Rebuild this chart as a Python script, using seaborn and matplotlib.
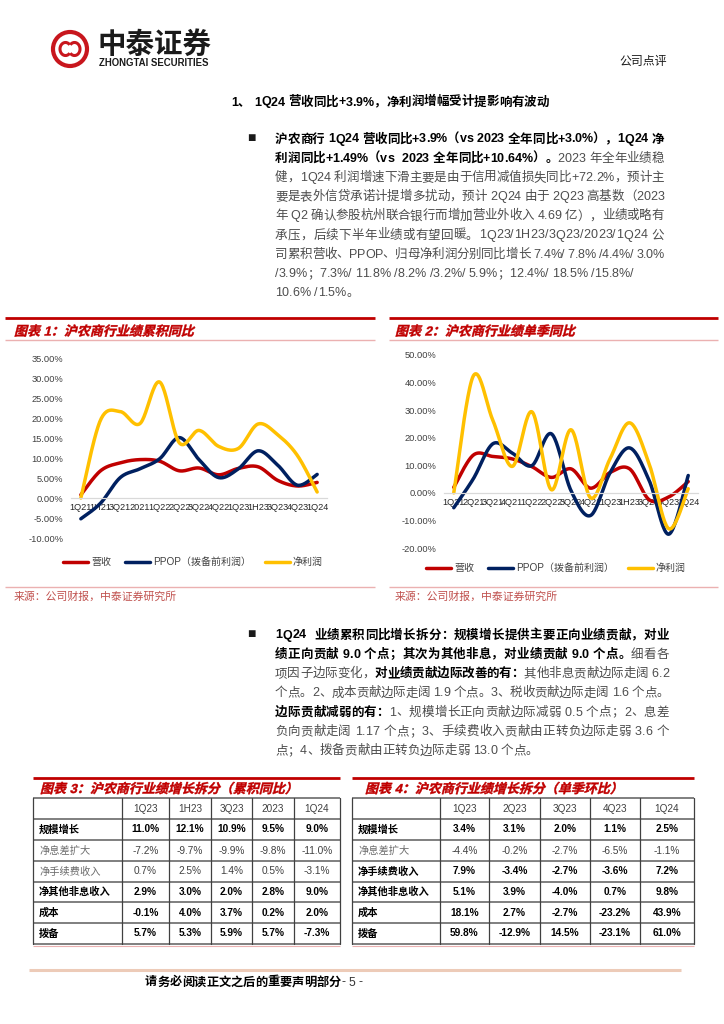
import numpy as np
import pandas as pd
import matplotlib
matplotlib.use("Agg")
import matplotlib.pyplot as plt
import seaborn as sns
from matplotlib.font_manager import FontProperties
from matplotlib.patches import Circle, PathPatch, Arc
from matplotlib.textpath import TextPath
from matplotlib.transforms import Affine2D
from matplotlib.ticker import FuncFormatter

# ------------------------------------------------------------
# Data
# ------------------------------------------------------------
series_names = ["营收", "PPOP（拨备前利润）", "净利润"]
series_colors = ["#C00000", "#002060", "#FFC000"]

cum_labels = ["1Q21", "1H21", "3Q21", "2021", "1Q22", "2Q22", "3Q22", "4Q22",
              "1Q23", "1H23", "3Q23", "4Q23", "1Q24"]
cum_rev = [0.8, 6.8, 8.8, 9.6, 9.2, 6.8, 7.5, 5.8, 7.4, 7.8, 4.4, 3.0, 3.9]
cum_ppop = [-5.2, -1.3, 5.1, 7.3, 9.8, 15.1, 9.6, 5.1, 7.3, 11.8, 8.2, 3.2, 5.9]
cum_np = [0.0, 19.5, 21.6, 18.6, 29.0, 13.8, 16.9, 12.9, 12.4, 18.5, 15.8, 10.6, 1.5]

q_labels = ["1Q21", "2Q21", "3Q21", "4Q21", "1Q22", "2Q22", "3Q22", "4Q22",
            "1Q23", "1H23", "3Q23", "4Q23", "1Q24"]
q_rev = [2.0, 13.7, 13.2, 12.3, 9.5, 5.6, 8.7, 1.7, 7.4, 8.7, -2.5, -1.5, 4.1]
q_ppop = [-5.4, 5.1, 17.8, 14.4, 9.9, 21.4, 0.8, -8.2, 7.3, 16.3, 4.5, -15.0, 6.3]
q_np = [0.0, 42.4, 26.3, 9.6, 29.4, 1.1, 22.9, -1.8, 12.4, 25.4, 10.5, -13.0, 1.5]

row_labels = ["规模增长", "净息差扩大", "净手续费收入", "净其他非息收入", "成本", "拨备"]

t3_header = ["1Q23", "1H23", "3Q23", "2023", "1Q24"]
t3_values = [
    [11.0, 12.1, 10.9, 9.5, 9.0],
    [-7.2, -9.7, -9.9, -9.8, -11.0],
    [0.7, 2.5, 1.4, 0.5, -3.1],
    [2.9, 3.0, 2.0, 2.8, 9.0],
    [-0.1, 4.0, 3.7, 0.2, 2.0],
    [5.7, 5.3, 5.9, 5.7, -7.3],
]
t3_bold = [True, False, False, True, True, True]

t4_header = ["1Q23", "2Q23", "3Q23", "4Q23", "1Q24"]
t4_values = [
    [3.4, 3.1, 2.0, 1.1, 2.5],
    [-4.4, -0.2, -2.7, -6.5, -1.1],
    [7.9, -3.4, -2.7, -3.6, 7.2],
    [5.1, 3.9, -4.0, 0.7, 9.8],
    [18.1, 2.7, -2.7, -23.2, 43.9],
    [59.8, -12.9, 14.5, -23.1, 61.0],
]
t4_bold = [True, False, True, True, True, True]

para1 = [
    [("沪农商行 1Q24 营收同比+3.9%（vs 2023 全年同比+3.0%），1Q24 净", "b")],
    [("利润同比+1.49%（vs  2023 全年同比+10.64%）。", "b"), ("2023 年全年业绩稳", "r")],
    [("健，1Q24 利润增速下滑主要是由于信用减值损失同比+72.2%，预计主", "r")],
    [("要是表外信贷承诺计提增多扰动，预计 2Q24 由于 2Q23 高基数（2023", "r")],
    [("年 Q2 确认参股杭州联合银行而增加营业外收入 4.69 亿），业绩或略有", "r")],
    [("承压，后续下半年业绩或有望回暖。1Q23/1H23/3Q23/2023/1Q24 公", "r")],
    [("司累积营收、PPOP、归母净利润分别同比增长 7.4%/ 7.8% /4.4%/ 3.0%", "r")],
    [("/3.9%；7.3%/ 11.8% /8.2% /3.2%/ 5.9%；12.4%/ 18.5% /15.8%/", "r")],
    [("10.6% /1.5%。", "r")],
]
para2 = [
    [("1Q24  业绩累积同比增长拆分：规模增长提供主要正向业绩贡献，对业", "b")],
    [("绩正向贡献 9.0 个点；其次为其他非息，对业绩贡献 9.0 个点。", "b"), ("细看各", "r")],
    [("项因子边际变化，", "r"), ("对业绩贡献边际改善的有：", "b"), ("其他非息贡献边际走阔 6.2", "r")],
    [("个点。2、成本贡献边际走阔 1.9 个点。3、税收贡献边际走阔 1.6 个点。", "r")],
    [("边际贡献减弱的有：", "b"), ("1、规模增长正向贡献边际减弱 0.5 个点；2、息差", "r")],
    [("负向贡献走阔 1.17 个点；3、手续费收入贡献由正转负边际走弱 3.6 个", "r")],
    [("点；4、拨备贡献由正转负边际走弱 13.0 个点。", "r")],
]

# ------------------------------------------------------------
# Page setup
# ------------------------------------------------------------
sns.set_theme(style="white")
FAMILY = ["Liberation Sans", "Noto Sans CJK SC", "DejaVu Sans"]
plt.rcParams["font.family"] = FAMILY
plt.rcParams["axes.unicode_minus"] = False

W, H = 724, 1024
fig = plt.figure(figsize=(W / 100, H / 100), dpi=100)
fig.patch.set_facecolor("white")
page = fig.add_axes([0, 0, 1, 1])
page.set_xlim(0, W)
page.set_ylim(H, 0)
page.set_autoscale_on(False)
page.axis("off")
renderer = fig.canvas.get_renderer()

RED = "#C00000"
PINK = "#EBB1B1"


def fp(size, bold=False):
    return FontProperties(family=FAMILY, weight="bold" if bold else "normal", size=size)


_adv = {}


def advance(ch, size, bold):
    key = (ch, size, bold)
    if key not in _adv:
        p = fp(size, bold)
        w1 = renderer.get_text_width_height_descent("a" + ch + "a", p, ismath=False)[0]
        w0 = renderer.get_text_width_height_descent("aa", p, ismath=False)[0]
        _adv[key] = w1 - w0
    return _adv[key]


def text_line(x, y, runs, size=9.0, right=None, colors=("#000000", "#4d4d4d")):
    items = []
    for txt, st in runs:
        b = st == "b"
        for ch in txt:
            items.append((ch, b, advance(ch, size, b)))
    total = sum(it[2] for it in items)
    gap = 0.0
    if right is not None and len(items) > 1:
        gap = (right - x - total) / (len(items) - 1)
    cx = x
    for ch, b, w in items:
        if ch != " ":
            page.text(cx, y, ch, fontproperties=fp(size, b),
                      color=colors[0] if b else colors[1], ha="left", va="baseline")
        cx += w + gap


def italic_title(x, y_base, s, size=13.0, color=RED):
    tp = TextPath((0, 0), s, size=size, prop=FontProperties(family=FAMILY, weight="bold"))
    tr = Affine2D().skew_deg(14, 0).scale(1, -1).translate(x, y_base) + page.transData
    page.add_patch(PathPatch(tp, transform=tr, fc=color, ec=color, lw=0.3))


def hline(x0, x1, y, color, lw):
    page.plot([x0, x1], [y, y], color=color, lw=lw, solid_capstyle="butt")


# ------------------------------------------------------------
# Header
# ------------------------------------------------------------
page.add_patch(Circle((70, 49), 17, fill=False, ec="#C8161D", lw=3.0))
page.add_patch(Arc((65.5, 49), 11, 13, theta1=45, theta2=315, ec="#C8161D", lw=2.2))
page.add_patch(Arc((74.5, 49), 11, 13, theta1=225, theta2=135, ec="#C8161D", lw=2.2))
page.text(97, 45, "中泰证券", fontproperties=fp(20.5, True), color="#1a1a1a",
          ha="left", va="center")
page.text(99, 63, "ZHONGTAI SECURITIES", fontproperties=fp(6.9, True), color="#1a1a1a",
          ha="left", va="center")
page.text(619, 62, "公司点评", fontproperties=fp(8.6), color="#1a1a1a",
          ha="left", va="center")

text_line(231, 105.5, [("1、 1Q24 营收同比+3.9%，净利润增幅受计提影响有波动", "b")])

# ------------------------------------------------------------
# Paragraphs
# ------------------------------------------------------------
page.text(247, 138, "■", fontproperties=fp(10), color="#1a1a1a", ha="left", va="center")
for i, runs in enumerate(para1):
    text_line(275, 138 + 19.2 * i + 4.5, runs, right=664 if i < 7 else None)

page.text(247, 634, "■", fontproperties=fp(10), color="#1a1a1a", ha="left", va="center")
for i, runs in enumerate(para2):
    text_line(275, 634 + 19.3 * i + 4.5, runs, right=669 if i < 6 else None)

# ------------------------------------------------------------
# Charts
# ------------------------------------------------------------


def smooth(vals, n=24):
    pts = np.column_stack([np.arange(len(vals)), vals]).astype(float)
    P = np.vstack([pts[0], pts, pts[-1]])
    out = []
    for i in range(1, len(P) - 2):
        p0, p1, p2, p3 = P[i - 1], P[i], P[i + 1], P[i + 2]
        c1 = p1 + (p2 - p0) / 6
        c2 = p2 - (p3 - p1) / 6
        t = np.linspace(0, 1, n, endpoint=(i == len(P) - 3))[:, None]
        out.append((1 - t) ** 3 * p1 + 3 * (1 - t) ** 2 * t * c1
                   + 3 * (1 - t) * t ** 2 * c2 + t ** 3 * p2)
    return np.vstack(out)


def draw_chart(box, labels, series, ylim, yticks, legend_xy):
    l, t, r, b = box
    ax = fig.add_axes([l / W, 1 - b / H, (r - l) / W, (b - t) / H])
    frames = []
    for name, vals in zip(series_names, series):
        sm = smooth(vals)
        frames.append(pd.DataFrame({"x": sm[:, 0], "y": sm[:, 1], "series": name}))
    df = pd.concat(frames, ignore_index=True)
    sns.lineplot(data=df, x="x", y="y", hue="series", hue_order=series_names,
                 palette=series_colors, sort=False, estimator=None,
                 linewidth=2.5, ax=ax)
    ax.set_xlim(-0.5, len(labels) - 0.5)
    ax.set_ylim(*ylim)
    ax.set_yticks(yticks)
    ax.yaxis.set_major_formatter(FuncFormatter(lambda v, _: f"{v:.2f}%"))
    ax.set_xticks(range(len(labels)))
    ax.set_xticklabels(labels)
    ax.set_xlabel("")
    ax.set_ylabel("")
    for s in ["top", "right", "left"]:
        ax.spines[s].set_visible(False)
    ax.spines["bottom"].set_position(("data", 0))
    ax.spines["bottom"].set_color("#d9d9d9")
    ax.spines["bottom"].set_linewidth(0.9)
    ax.tick_params(axis="both", length=0)
    ax.tick_params(axis="y", labelsize=6.7, labelcolor="#404040", pad=5.5)
    ax.tick_params(axis="x", labelsize=6.6, labelcolor="#262626", pad=3.5)
    ax.set_facecolor("none")
    handles, labs = ax.get_legend_handles_labels()
    ax.legend(handles, labs, ncol=3, loc="center", bbox_to_anchor=legend_xy,
              bbox_transform=fig.transFigure, frameon=False, fontsize=7.2,
              handlelength=2.5, handletextpad=0.3, columnspacing=1.4,
              labelcolor="#404040")
    return ax


# chart 1 frame
hline(5, 375, 318, RED, 2.0)
hline(5, 375, 340, PINK, 1.0)
hline(5, 375, 587, PINK, 1.0)
italic_title(14, 335.5, "图表 1：沪农商行业绩累积同比")
page.text(14, 597, "来源：公司财报，中泰证券研究所", fontproperties=fp(7.8),
          color="#C0504D", ha="left", va="center")

# chart 2 frame
hline(389, 718, 318, RED, 2.0)
hline(389, 718, 340, PINK, 1.0)
hline(389, 718, 587, PINK, 1.0)
italic_title(395, 335.5, "图表 2：沪农商行业绩单季同比")
page.text(395, 597, "来源：公司财报，中泰证券研究所", fontproperties=fp(7.8),
          color="#C0504D", ha="left", va="center")

draw_chart((71, 358, 327, 538), cum_labels, [cum_rev, cum_ppop, cum_np],
           (-10, 35), np.arange(-10, 36, 5), (193 / W, 1 - 562 / H))
draw_chart((444, 355, 698, 548), q_labels, [q_rev, q_ppop, q_np],
           (-20, 50), np.arange(-20, 51, 10), (556 / W, 1 - 568 / H))

# ------------------------------------------------------------
# Tables
# ------------------------------------------------------------
ROWS_Y = [798, 819, 840, 861, 882, 902, 923, 944]


def draw_table(x_cols, title_x, title, header, values, bold_rows):
    hline(x_cols[0], x_cols[-1], 778, RED, 2.0)
    italic_title(title_x, 793, title)
    for j, h in enumerate(header):
        cx = (x_cols[j + 1] + x_cols[j + 2]) / 2
        page.text(cx, (ROWS_Y[0] + ROWS_Y[1]) / 2, h, fontproperties=fp(7.2),
                  color="#404040", ha="center", va="center")
    for i, lab in enumerate(row_labels):
        cy = (ROWS_Y[i + 1] + ROWS_Y[i + 2]) / 2
        b = bold_rows[i]
        page.text(x_cols[0] + 6, cy, lab, fontproperties=fp(7.4, b),
                  color="#000000" if b else "#6b6b6b", ha="left", va="center")
        for j, v in enumerate(values[i]):
            cx = (x_cols[j + 1] + x_cols[j + 2]) / 2
            page.text(cx, cy, f"{v:.1f}%", fontproperties=fp(7.3, b),
                      color="#000000" if b else "#404040", ha="center", va="center")
    for y in ROWS_Y:
        hline(x_cols[0], x_cols[-1], y, "#7f7f7f", 1.4)
    for x in x_cols:
        page.plot([x, x], [ROWS_Y[0], ROWS_Y[-1]], color="#404040", lw=0.9)
    hline(x_cols[0], x_cols[-1], ROWS_Y[-1] + 1.5, PINK, 0.8)


draw_table([33, 122, 169, 211, 252, 294, 340], 40,
           "图表 3：沪农商行业绩增长拆分（累积同比）", t3_header, t3_values, t3_bold)
draw_table([352, 440, 489, 540, 590, 640, 694], 365,
           "图表 4：沪农商行业绩增长拆分（单季环比）", t4_header, t4_values, t4_bold)

# ------------------------------------------------------------
# Footer
# ------------------------------------------------------------
hline(29, 681, 970, "#EDCBB8", 2.2)
text_line(145, 985.5, [("请务必阅读正文之后的重要声明部分", "b"), ("- 5 -", "r")],
          size=8.8, colors=("#000000", "#333333"))

fig.savefig("out.png", dpi=100, facecolor="white")
